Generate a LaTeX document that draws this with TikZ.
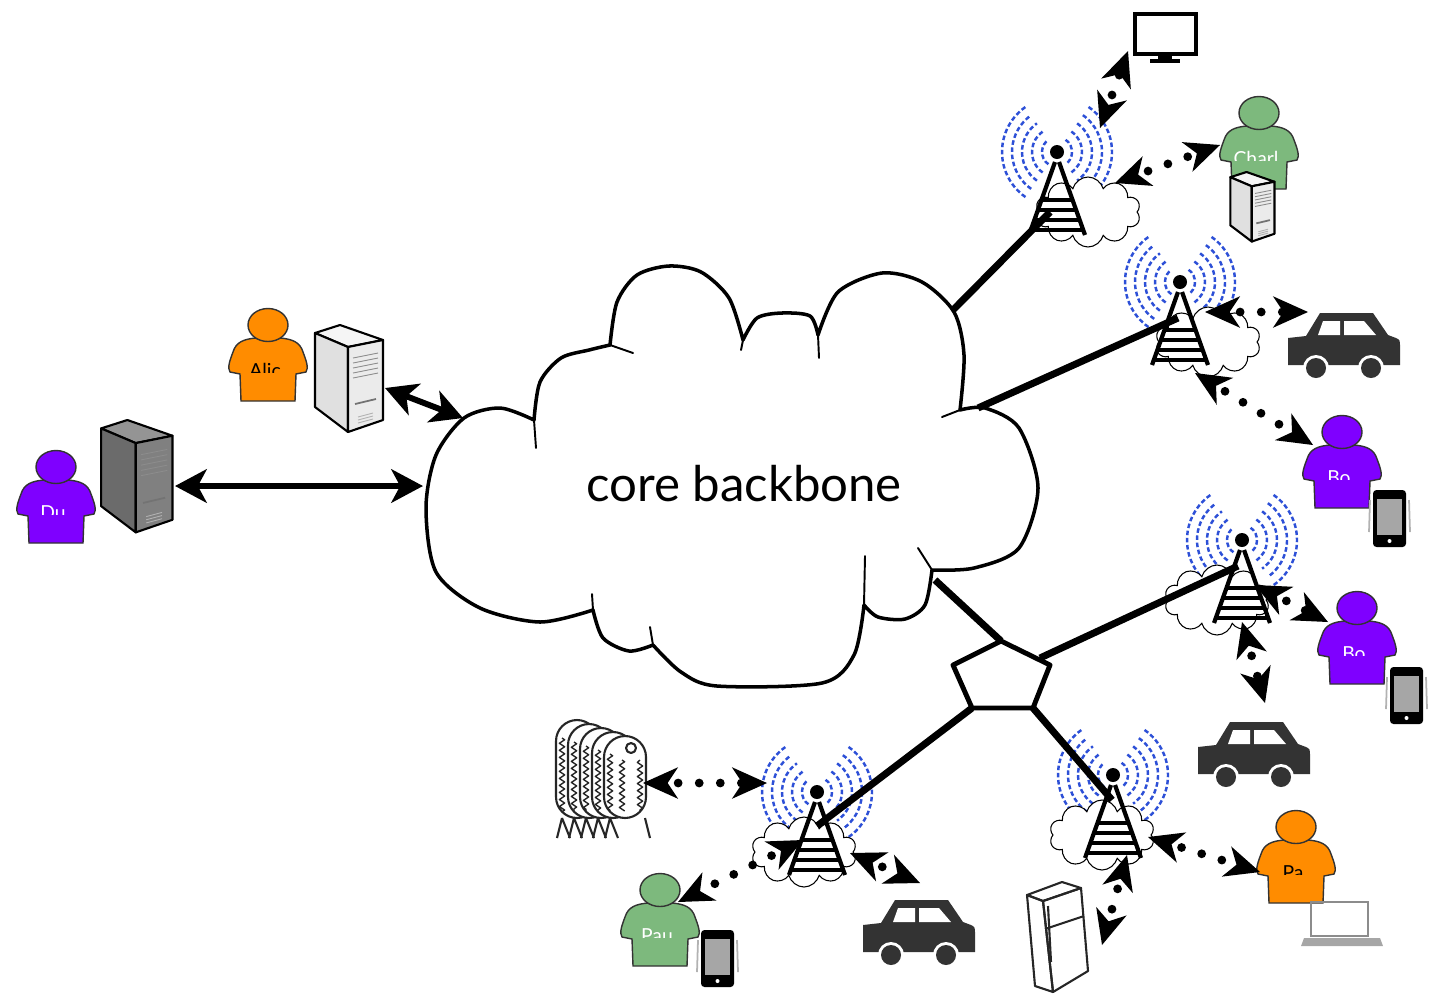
\documentclass[tikz,border=0pt]{standalone}
\usepackage{fontspec}
\setmainfont{Lato}
\setsansfont{Lato}
\usetikzlibrary{arrows.meta,shapes.symbols,decorations.pathmorphing}

\definecolor{userorange}{RGB}{255,140,0}
\definecolor{userpurple}{RGB}{127,0,255}
\definecolor{usergreen}{RGB}{125,185,125}
\definecolor{radioblue}{RGB}{45,80,215}
\definecolor{cargrey}{RGB}{51,51,51}

\tikzset{
  backbone/.style={line width=4pt},
  link/.style={line width=3.4pt,
    {Stealth[length=18pt,width=19pt,inset=5pt]}-{Stealth[length=18pt,width=19pt,inset=5pt]}},
  radio/.style={line width=5pt, line cap=round, dash pattern=on 0pt off 12pt, dash phase=6pt,
    {Stealth[length=20pt,width=18pt,inset=6pt,line width=0pt]}-{Stealth[length=20pt,width=18pt,inset=6pt,line width=0pt]}},
  wave/.style={radioblue, line width=1.4pt, dash pattern=on 2.6pt off 1.5pt},
  puff/.style={cloud, cloud puffs=10, draw, line width=0.6pt, fill=white,
    minimum width=2.1cm, minimum height=1.4cm, inner sep=0pt},
  mastline/.style={line width=2.4pt},
  tail/.style={line width=1.1pt, line cap=round},
  sketch/.style={line width=1.2pt, black!85, line join=round},
  shirt/.style={anchor=base, inner sep=0pt, font=\sffamily\fontsize{11}{11}\selectfont},
  % antenna with its radio waves and a small local cloud
  pics/mast/.style={code={
    \foreach \r in {15,25,35,45,55}{
      \draw[wave] (-55:\r) arc (-55:55:\r);
      \draw[wave] (125:\r) arc (125:235:\r);
    }
    \node[puff] at (#1,60) {};
    \fill (0,0) circle (7);
    \draw[mastline] (-2,10) -- (-28,83) (2,10) -- (28,83);
    \foreach \h in {48,58,68,78}
      \draw[line width=2pt] ({-2-26*(\h-10)/73},\h) -- ({2+26*(\h-10)/73},\h);
  }},
  pics/user/.style n args={3}{code={
    \filldraw[fill=#1, draw=black!80, line width=0.8pt]
      (-12,30) .. controls (-24,31) and (-32,34) .. (-35,44)
      .. controls (-38,52) and (-41,60) .. (-38,64)
      -- (-28,66) -- (-27,93) -- (27,93) -- (28,66) -- (38,64)
      .. controls (41,60) and (38,52) .. (35,44)
      .. controls (32,34) and (24,31) .. (12,30)
      .. controls (5,33) and (-5,33) .. (-12,30) -- cycle;
    \filldraw[fill=#1, draw=black!80, line width=0.8pt] (0,17) ellipse (20 and 16.5);
    \begin{scope}
      \clip (-25,48) rectangle (25,64);
      \node[shirt, text=#3] at (-3,69) {#2};
    \end{scope}
  }},
  pics/server/.style n args={3}{code={
    \filldraw[fill=#3, line width=1.2pt, line join=round] (2,8) -- (27,0) -- (70,15) -- (35,22) -- cycle;
    \filldraw[fill=#1, line width=1.2pt, line join=round] (2,8) -- (35,22) -- (35,107) -- (2,82) -- cycle;
    \filldraw[fill=#2, line width=1.2pt, line join=round] (35,22) -- (70,15) -- (70,95) -- (35,107) -- cycle;
    \foreach \k in {0,...,4}
      \draw[black!45, line width=0.5pt] (40,{33+5*\k}) -- (65,{28+5*\k});
    \draw[black!55, line width=1pt] (42,79) -- (63,74);
    \foreach \k in {0,...,2}
      \draw[black!30, line width=0.5pt] (45,{92+3*\k}) -- (60,{88+3*\k});
  }},
  pics/car/.style={code={
    \fill[cargrey] (0,25) -- (18,23) -- (32,0) -- (85,0) -- (100,22) -- (108,25)
      .. controls (112,27) .. (112,35) -- (112,52) -- (0,52) -- cycle;
    \fill[white] (30,22) -- (35,8) -- (52,8) -- (52,22) -- cycle;
    \fill[white] (56,8) -- (76,8) -- (88,22) -- (56,22) -- cycle;
    \fill[white] (28,55) circle (13) (83,55) circle (13);
    \fill[cargrey] (28,55) circle (10) (83,55) circle (10);
  }},
  pics/phone/.style={code={
    \draw[black!30, line width=1pt] (-3,10) -- (-4,42) (36,10) -- (37,42);
    \fill[rounded corners=2] (0,0) rectangle (33,57);
    \fill[black!35] (4,9) rectangle (29,45);
    \fill[white] (16.5,51) circle (2);
  }}
}

\begin{document}
\begin{tikzpicture}[x=0.02cm, y=-0.02cm]
\useasboundingbox (0,0) rectangle (1435,1005);

% antennas
\pic at (1057,152) {mast=31};
\pic at (1180,282) {mast=28};
\pic at (1242,540) {mast=-25};
\pic at (817,792) {mast=-13};
\pic at (1113,775) {mast=-11};

% core cloud
\draw[line width=2pt, fill=white, line join=round]
  plot[smooth] coordinates {(534,420) (500,408) (464,418) (436,455) (426,508) (436,572) (480,608) (540,622) (593,610)}
  -- plot[smooth] coordinates {(593,610) (603,638) (629,651) (653,645)}
  -- plot[smooth] coordinates {(653,645) (681,672) (717,686) (822,683) (854,655) (864,605)}
  -- plot[smooth] coordinates {(864,605) (878,617) (905,619) (925,605) (932,570)}
  -- plot[smooth] coordinates {(932,570) (974,568) (1019,548) (1038,488) (1019,428) (985,408) (960,410)}
  -- plot[smooth] coordinates {(960,410) (964,355) (954,312) (922,282) (882,273) (838,292) (818,335)}
  -- plot[smooth] coordinates {(818,335) (810,316) (782,313) (757,318) (743,340)}
  -- plot[smooth] coordinates {(743,340) (729,298) (701,272) (669,266) (637,275) (617,302) (610,345)}
  -- plot[smooth] coordinates {(610,345) (589,350) (561,358) (540,382) (534,420)}
  -- cycle;
\draw[tail] (534,420) -- (536,448) (593,610) -- (592,594) (653,645) -- (650,627)
  (864,605) -- (865,556) (932,570) -- (918,548) (960,410) -- (942,417)
  (818,335) -- (819,358) (743,340) -- (741,350) (610,345) -- (633,353);
\node[font=\fontsize{28}{30}\selectfont] (core) at (744,484) {core backbone};

% backbone links
\coordinate (core-t1) at (953,310);  \coordinate (t1) at (1050,212);
\coordinate (core-t2) at (978,408);  \coordinate (t2) at (1178,318);
\coordinate (core-hub) at (935,580); \coordinate (hub-n) at (1001,641);
\coordinate (hub-ne) at (1040,658);  \coordinate (t3) at (1238,566);
\coordinate (hub-sw) at (972,708);   \coordinate (t4) at (817,826);
\coordinate (hub-se) at (1033,708);  \coordinate (t5) at (1112,800);
\draw[backbone] (core-t1) -- (t1);
\draw[backbone] (core-t2) -- (t2);
\draw[backbone] (core-hub) -- (hub-n);
\draw[backbone] (hub-ne) -- (t3);
\draw[backbone] (hub-sw) -- (t4);
\draw[backbone] (hub-se) -- (t5);
\draw[line width=2.8pt, fill=white, line join=round]
  (hub-n) -- (1050,665) -- (hub-se) -- (hub-sw) -- (953,665) -- cycle;

% users
\pic at (268,308) {user={userorange}{Alic}{black}};
\pic at (56,450) {user={userpurple}{Du}{white}};
\pic at (1259,96) {user={usergreen}{Charl}{white}};
\pic at (1342,415) {user={userpurple}{Bo}{white}};
\pic at (1357,591) {user={userpurple}{Bo}{white}};
\pic at (660,873) {user={usergreen}{Pau}{white}};
\pic at (1296,810) {user={userorange}{Pa}{black}};

% servers
\pic at (313,325) {server={black!12}{black!8}{black!4}};
\pic[scale=1.05] at (99,420) {server={black!58}{black!50}{black!42}};
\pic[scale=0.65] at (1229,172) {server={black!12}{black!8}{black!4}};

% devices
\pic at (1373,490) {phone};
\pic at (1390,667) {phone};
\pic at (701,930) {phone};
\pic at (1288,313) {car};
\pic at (1198,722) {car};
\pic at (863,900) {car};
\draw[line width=2.8pt] (1135,14) rectangle (1196,54);
\fill (1158,54) rectangle (1172,59);
\fill (1150,59) rectangle (1180,63);
\draw[black!45, line width=1pt] (1311,902) rectangle (1368,936);
\fill[black!35] (1304,938) -- (1380,938) -- (1383,946) -- (1301,946) -- cycle;

% fridge
\draw[sketch] (1027,895) -- (1062,882) -- (1081,888) -- (1043,901) -- cycle;
\draw[sketch] (1043,901) -- (1081,888) -- (1088,971) -- (1053,992) -- cycle;
\draw[sketch] (1027,895) -- (1043,901) -- (1053,992) -- (1035,986) -- cycle;
\draw[sketch] (1045,929) -- (1084,916);
\draw[sketch] (1048,906) -- (1051,962);

% radiator
\foreach \i in {0,...,4}{
  \draw[sketch, fill=white, rounded corners=12] ({556+12*\i},818) -- ({556+12*\i},{720+4*\i})
    -- ({598+12*\i},{720+4*\i}) -- ({598+12*\i},818) -- cycle;
  \draw[sketch, line width=0.8pt, decorate, decoration={zigzag, segment length=4pt, amplitude=1.5pt}]
    ({562+12*\i},{738+4*\i}) -- ({562+12*\i},812);
  \draw[sketch] ({562+12*\i},818) -- ({557+12*\i},838) ({562+12*\i},818) -- ({570+12*\i},838);
}
\draw[sketch, line width=0.8pt, decorate, decoration={zigzag, segment length=4pt, amplitude=1.5pt}]
  (622,760) -- (622,812) (640,760) -- (640,812);
\draw[sketch] (631,748) circle (5);
\draw[sketch] (645,818) -- (650,838);

% wired access
\coordinate (dude-srv) at (175,486);  \coordinate (core-w) at (423,486);
\coordinate (alice-srv) at (385,388); \coordinate (core-nw) at (463,418);
\draw[link] (dude-srv) -- (core-w);
\draw[link] (alice-srv) -- (core-nw);

% radio links
\coordinate (t1-tv) at (1100,128);    \coordinate (tv) at (1128,51);
\coordinate (t1-charlie) at (1115,183); \coordinate (charlie) at (1220,145);
\coordinate (t2-car) at (1205,312);   \coordinate (car1) at (1308,312);
\coordinate (t2-bob) at (1195,373);   \coordinate (bob1) at (1313,445);
\coordinate (t3-bob) at (1255,585);   \coordinate (bob2) at (1328,622);
\coordinate (t3-car) at (1242,622);   \coordinate (car2) at (1265,703);
\coordinate (radiator) at (643,783);  \coordinate (t4-radiator) at (767,783);
\coordinate (t4-paul) at (803,840);   \coordinate (paul) at (678,902);
\coordinate (t4-car) at (850,853);    \coordinate (car3) at (920,883);
\coordinate (t5-pat) at (1148,837);   \coordinate (pat) at (1260,872);
\coordinate (t5-fridge) at (1127,855); \coordinate (fridge) at (1102,945);
\draw[radio] (t1-tv) -- (tv);
\draw[radio] (t1-charlie) -- (charlie);
\draw[radio] (t2-car) -- (car1);
\draw[radio] (t2-bob) -- (bob1);
\draw[radio] (t3-bob) -- (bob2);
\draw[radio] (t3-car) -- (car2);
\draw[radio] (radiator) -- (t4-radiator);
\draw[radio] (t4-paul) -- (paul);
\draw[radio] (t4-car) -- (car3);
\draw[radio] (t5-pat) -- (pat);
\draw[radio] (t5-fridge) -- (fridge);
\end{tikzpicture}
\end{document}
